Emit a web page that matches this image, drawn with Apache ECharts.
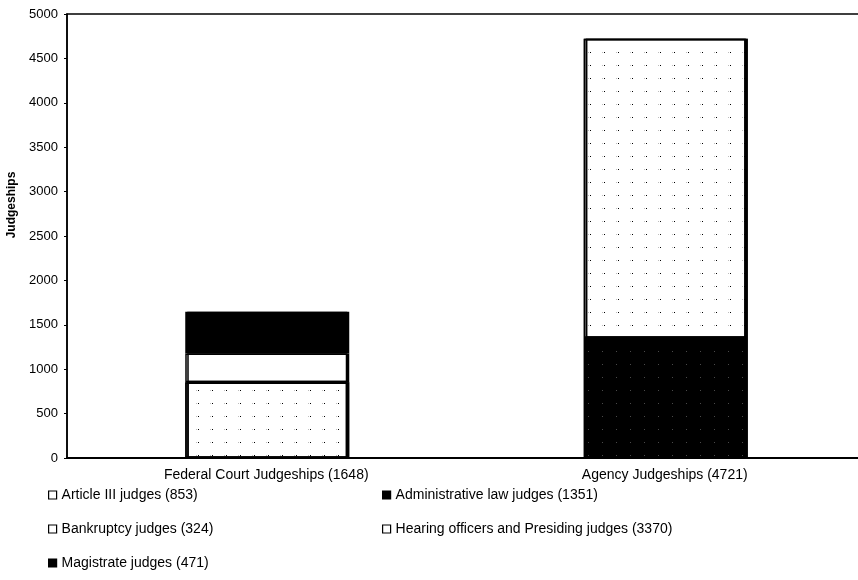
<!DOCTYPE html>
<html>
<head>
<meta charset="utf-8">
<script src="https://cdn.jsdelivr.net/npm/echarts@6/dist/echarts.min.js"></script>
<style>html,body{margin:0;padding:0;background:#fff;overflow:hidden;width:858px;height:580px;}#c{width:864px;height:580px;}</style>
</head>
<body>
<div id="c"></div>
<script>
const categories = ['Federal Court Judgeships (1648)', 'Agency Judgeships (4721)'];
const articleIII = [853, null];
const bankruptcy = [324, null];
const magistrate = [471, null];
const adminLaw = [null, 1351];
const hearing = [null, 3370];
const seriesNames = ['Article III judges (853)', 'Bankruptcy judges (324)', 'Magistrate judges (471)', 'Administrative law judges (1351)', 'Hearing officers and Presiding judges (3370)'];
const yTicks = { min: 0, max: 5000, interval: 500 };

const chart = echarts.init(document.getElementById('c'), null, { renderer: 'canvas' });

function dots(color) {
  return { symbol: 'rect', symbolSize: 1, color: color, dashArrayX: [1, 13], dashArrayY: [1, 12], rotation: 0 };
}
function style(fill, decal) {
  const s = { color: fill, borderColor: '#000', borderWidth: 1.5, shadowColor: '#000', shadowOffsetX: 2, shadowOffsetY: 0, shadowBlur: 0 };
  if (decal) s.decal = decal;
  return s;
}
const fills = [
  style('#fff', dots('#bdbdbd')),
  style('#fff', null),
  style('#000', null),
  style('#000', dots('#4a4a4a')),
  style('#fff', dots('#bdbdbd'))
];
const datas = [articleIII, bankruptcy, magistrate, adminLaw, hearing];

const series = datas.map((d, i) => ({
  name: seriesNames[i],
  type: 'bar',
  stack: 'total',
  data: d,
  barWidth: 162,
  itemStyle: fills[i],
  emphasis: { disabled: true },
  animation: false
}));

const legendText = { fontFamily: 'Liberation Sans', fontSize: 14, color: '#000', lineHeight: 16 };
const legendIconStyle = (fill) => ({ color: fill, borderColor: '#000', borderWidth: 1.2, decal: 'none', shadowOffsetX: 0 });

chart.setOption({
  animation: false,
  backgroundColor: '#fff',
  grid: { left: 67, top: 14, right: 0, height: 444, show: true, borderColor: '#000', borderWidth: 1.5, backgroundColor: 'transparent' },
  xAxis: {
    type: 'category',
    data: categories,
    axisLine: { lineStyle: { color: '#000', width: 2 } },
    axisTick: { show: false },
    axisLabel: { fontFamily: 'Liberation Sans', fontSize: 14, color: '#000', margin: 10 }
  },
  yAxis: {
    type: 'value',
    min: yTicks.min, max: yTicks.max, interval: yTicks.interval,
    axisLine: { show: true, lineStyle: { color: '#000', width: 1.5 } },
    axisTick: { show: true, length: 3, lineStyle: { color: '#000' } },
    splitLine: { show: false },
    axisLabel: { fontFamily: 'Liberation Sans', fontSize: 13, color: '#000', margin: 9, formatter: (v) => String(v) }
  },
  legend: [
    {
      orient: 'vertical', left: 48, top: 487, padding: 0, height: 90, itemWidth: 8, itemHeight: 8, itemGap: 18,
      icon: 'rect', textStyle: legendText, selectedMode: false,
      data: [
        { name: seriesNames[0], itemStyle: legendIconStyle('#fff') },
        { name: seriesNames[1], itemStyle: legendIconStyle('#fff') },
        { name: seriesNames[2], itemStyle: legendIconStyle('#000') }
      ]
    },
    {
      orient: 'vertical', left: 382, top: 487, padding: 0, height: 90, itemWidth: 8, itemHeight: 8, itemGap: 18,
      icon: 'rect', textStyle: legendText, selectedMode: false,
      data: [
        { name: seriesNames[3], itemStyle: legendIconStyle('#000') },
        { name: seriesNames[4], itemStyle: legendIconStyle('#fff') }
      ]
    }
  ],
  graphic: [{
    type: 'text', x: 12, y: 205, rotation: Math.PI / 2,
    style: { text: 'Judgeships', fontFamily: 'Liberation Sans', fontWeight: 'bold', fontSize: 12, fill: '#000', align: 'center', verticalAlign: 'middle' }
  }],
  series: series
});
</script>
</body>
</html>
